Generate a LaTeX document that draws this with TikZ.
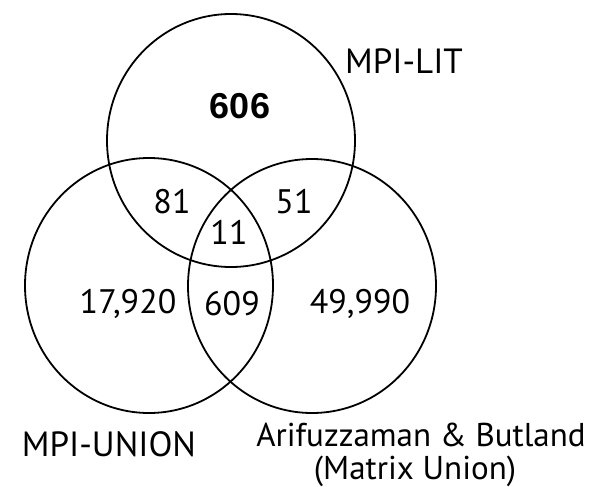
\documentclass[tikz,border=0pt]{standalone}
\usepackage{fontspec}
\setmainfont{PT Sans}
\newfontfamily\boldarial{Liberation Sans}
\begin{document}
\begin{tikzpicture}[x=1pt,y=-1pt,
  ring/.style={draw=black,line width=1.8pt},
  lbl/.style={font=\fontsize{35}{30}\selectfont,inner sep=0pt,anchor=base},
  sublbl/.style={font=\fontsize{33}{30}\selectfont,inner sep=0pt,anchor=base},
  numlbl/.style={font=\fontsize{34}{34}\selectfont,inner sep=0pt,anchor=center}]
\useasboundingbox (0,0) rectangle (605,487);
\draw[ring] (231,140.5) ellipse [x radius=124, y radius=126.5];
\draw[ring] (149,285.5) ellipse [x radius=124, y radius=127.5];
\draw[ring] (312,286) ellipse [x radius=124, y radius=127];
\node[font=\boldarial\bfseries\fontsize{36}{36}\selectfont,inner sep=0pt] (n606) at (240,106) {606};
\node[numlbl] (n81) at (172,202) {81};
\node[numlbl] (n51) at (294,202) {51};
\node[numlbl] (n11) at (229,232) {11};
\node[numlbl] (n17920) at (128,304) {17,920};
\node[numlbl] (n609) at (232,304) {609};
\node[numlbl] (n49990) at (360,304) {49,990};
\node[lbl] (lit) at (404,74) {MPI-LIT};
\node[lbl] (union) at (109,456) {MPI-UNION};
\node[sublbl] (ab1) at (421,446) {Arifuzzaman \& Butland};
\node[sublbl] (ab2) at (415,479) {(Matrix Union)};
\end{tikzpicture}
\end{document}
